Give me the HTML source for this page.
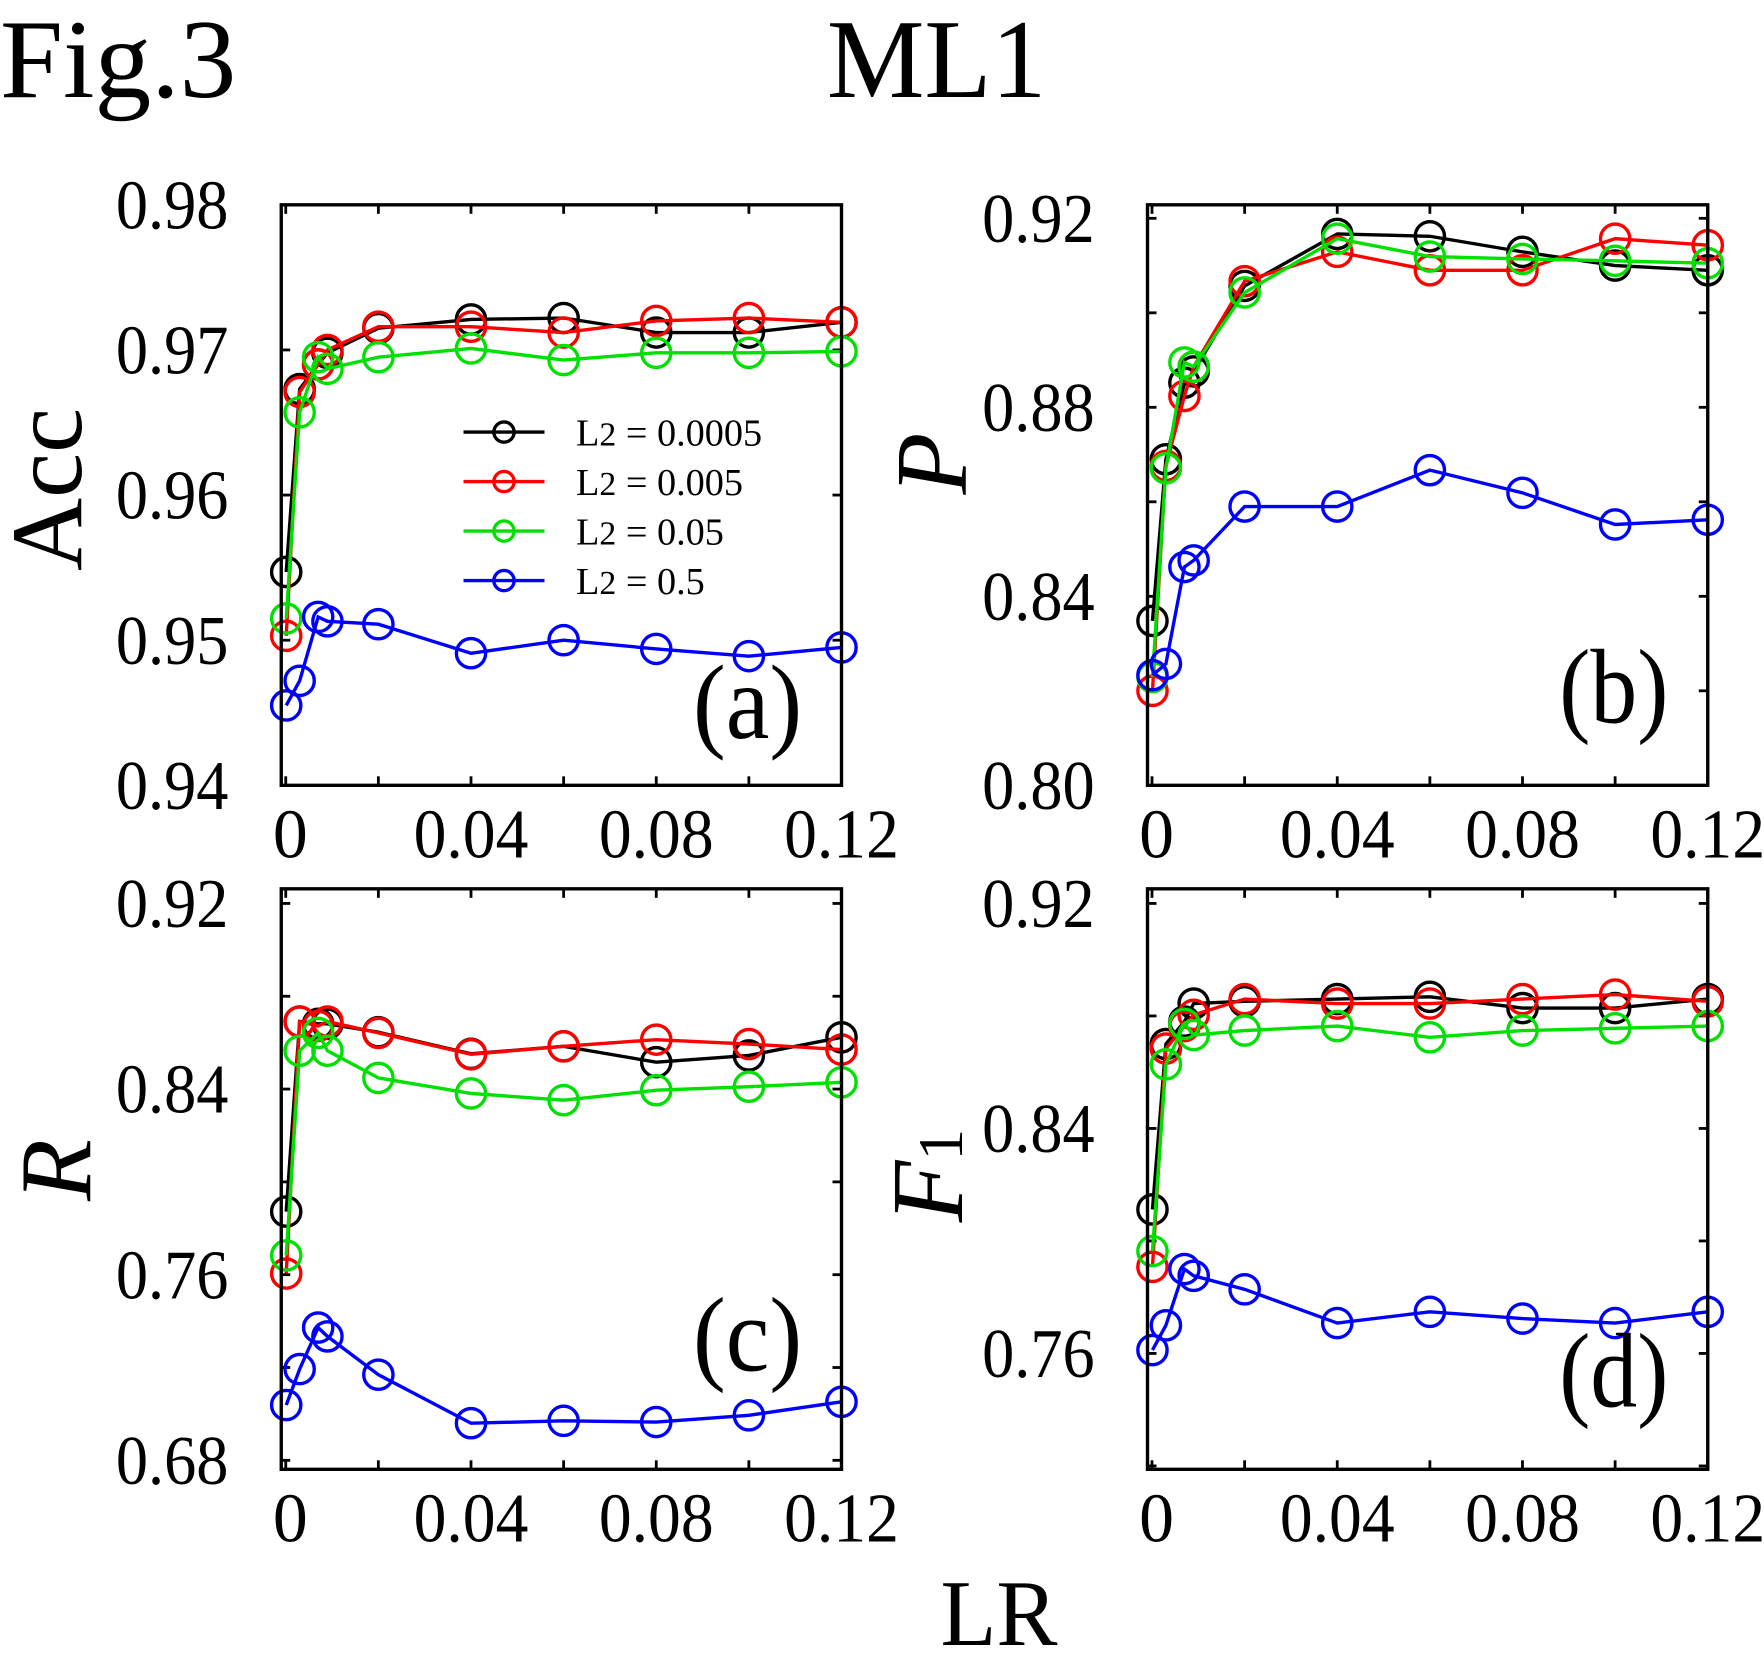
<!DOCTYPE html>
<html><head><meta charset="utf-8"><style>
html,body{margin:0;padding:0;background:#fff;}
svg{display:block;}
text{font-family:"Liberation Serif",serif;fill:#000;}
</style></head><body>
<svg id="fig" width="1764" height="1673" viewBox="0 0 1568 1487" xmlns="http://www.w3.org/2000/svg">
<text x="0" y="86" font-size="100" textLength="210" lengthAdjust="spacingAndGlyphs">Fig.3</text>
<text x="735" y="86" font-size="100" textLength="195" lengthAdjust="spacingAndGlyphs">ML1</text>
<text x="836" y="1462" font-size="84" textLength="104" lengthAdjust="spacingAndGlyphs">LR</text>
</svg>
<script>
const lr = [0.0001,0.003,0.007,0.009,0.02,0.04,0.06,0.08,0.1,0.12];
const seriesNames = ['L2 = 0.0005','L2 = 0.005','L2 = 0.05','L2 = 0.5'];
const colors = ['#000000','#ff0000','#00e000','#0000ff'];
const xTicks = [0,0.04,0.08,0.12];
const xTickLabels = ['0','0.04','0.08','0.12'];

const accBlack = [0.9547,0.9673,0.969,0.9698,0.9715,0.9721,0.9722,0.9712,0.9712,0.9719];
const accRed   = [0.9503,0.9671,0.969,0.970,0.9716,0.9716,0.9712,0.972,0.9722,0.9719];
const accGreen = [0.9515,0.9657,0.9695,0.9687,0.9695,0.9701,0.9693,0.9698,0.9698,0.9699];
const accBlue  = [0.9455,0.9472,0.9516,0.9513,0.9511,0.9491,0.950,0.9494,0.9489,0.9495];

const pBlack = [0.8348,0.869,0.8852,0.8876,0.9057,0.9167,0.9162,0.9129,0.910,0.909];
const pRed   = [0.820,0.8676,0.8824,0.8886,0.9067,0.9129,0.909,0.909,0.9157,0.9143];
const pGreen = [0.8229,0.8671,0.8895,0.8886,0.9043,0.9157,0.9119,0.9114,0.911,0.9105];
const pBlue  = [0.8233,0.8257,0.8462,0.8476,0.859,0.859,0.8667,0.8619,0.8552,0.8562];

const rBlack = [0.7872,0.8691,0.8681,0.8681,0.8645,0.8552,0.8584,0.8516,0.8545,0.8623];
const rRed   = [0.7605,0.8691,0.8672,0.8691,0.8642,0.855,0.8584,0.8613,0.8594,0.857];
const rGreen = [0.7683,0.8565,0.8642,0.8565,0.8448,0.8381,0.8352,0.8395,0.841,0.8429];
const rBlue  = [0.7038,0.7193,0.7372,0.7334,0.7169,0.696,0.697,0.6965,0.6994,0.7052];

const fBlack = [0.8112,0.870,0.878,0.8844,0.8852,0.886,0.8868,0.8828,0.8828,0.886];
const fRed   = [0.7908,0.8684,0.8764,0.8804,0.886,0.8844,0.8844,0.886,0.8876,0.8852];
const fGreen = [0.7964,0.8628,0.8772,0.8732,0.8748,0.8764,0.8724,0.8748,0.8756,0.8764];
const fBlue  = [0.7612,0.770,0.790,0.7876,0.7828,0.7708,0.7748,0.7724,0.7708,0.7748];

const accTicks = [0.94,0.95,0.96,0.97,0.98];
const accTickLabels = ['0.94','0.95','0.96','0.97','0.98'];
const pTicks = [0.80,0.84,0.88,0.92];
const pTickLabels = ['0.80','0.84','0.88','0.92'];
const rTicks = [0.68,0.76,0.84,0.92];
const rTickLabels = ['0.68','0.76','0.84','0.92'];
const fTicks = [0.76,0.84,0.92];
const fTickLabels = ['0.76','0.84','0.92'];

const NS='http://www.w3.org/2000/svg';
const svg=document.getElementById('fig');
function mk(tag,attrs,parent){const e=document.createElementNS(NS,tag);for(const k in attrs)e.setAttribute(k,attrs[k]);(parent||svg).appendChild(e);return e;}

function panel(o){
  const g=mk('g',{});
  
  
  const L=o.L,T=o.T,W=498,H=516;
  const x=v=>L+4+v*(W-4)/0.12;
  const y=v=>o.y0px-(v-o.y0)*o.ppu;
  for(let v=0;v<=0.1201;v+=0.02){const px=x(v);
    mk('line',{x1:px,y1:T,x2:px,y2:T+8,stroke:'#000','stroke-width':2.5},g);
    mk('line',{x1:px,y1:T+H,x2:px,y2:T+H-8,stroke:'#000','stroke-width':2.5},g);}
  for(let v=o.minor0;v<=o.ymax+1e-9;v+=o.minorStep){const py=y(v);if(py<T+2||py>T+H-2)continue;
    mk('line',{x1:L,y1:py,x2:L+8,y2:py,stroke:'#000','stroke-width':2.5},g);
    mk('line',{x1:L+W,y1:py,x2:L+W-8,y2:py,stroke:'#000','stroke-width':2.5},g);}
  xTicks.forEach((v,i)=>{const a={x:x(v)+(i==0?4:0),y:T+H+64,'font-size':62,'text-anchor':'middle'};
    if(i>0){a.textLength=102;a.lengthAdjust='spacingAndGlyphs';}
    const t=mk('text',a,g);t.textContent=xTickLabels[i];
    
    });
  o.ticks.forEach((v,i)=>{const t=mk('text',{x:L-147,y:y(v)+21,'font-size':62,textLength:100,lengthAdjust:'spacingAndGlyphs'},g);t.textContent=o.tickLabels[i];
    
    });
  o.series.forEach((s,si)=>{
    const pts=s.map((v,i)=>x(lr[i])+','+y(v)).join(' ');
    const pl=mk('polyline',{points:pts,fill:'none',stroke:colors[si],'stroke-width':3},g);
    
    
    s.forEach((v,i)=>{const c=mk('circle',{cx:x(lr[i]),cy:y(v),r:13,fill:'none',stroke:colors[si],'stroke-width':3},g);
      
      });
  });
  const fr=mk('rect',{x:L,y:T,width:W,height:H,fill:'none',stroke:'#000','stroke-width':3},g);
  
  
  const lab=mk('text',{x:L+366,y:T+o.labY,'font-size':94,textLength:97,lengthAdjust:'spacingAndGlyphs'},g);lab.textContent=o.label;
  
  
  const yt=mk('text',{x:0,y:0,'font-size':o.yfs,'text-anchor':'middle','font-style':o.italic?'italic':'normal',transform:'translate('+o.ytx+','+o.yty+') rotate(-90)'},g);
  
  
  if(o.sub){yt.textContent=o.ytitle;const ts=mk('tspan',{'font-size':56,'font-style':'normal',dy:0},yt);ts.textContent=o.sub;}
  else yt.textContent=o.ytitle;
  return {x,y,g};
}

panel({name:'panel-a-acc',L:250,T:182,y0:0.94,y0px:698,ppu:516/0.04,ymax:0.98,minor0:0.94,minorStep:0.01,ticks:accTicks,tickLabels:accTickLabels,series:[accBlack,accRed,accGreen,accBlue],label:'(a)',labY:474,ytitle:'Acc',ytx:72,yty:435,yfs:90});
panel({name:'panel-b-precision',L:1020,T:182,y0:0.80,y0px:698,ppu:168/0.04,ymax:0.93,minor0:0.80,minorStep:0.02,ticks:pTicks,tickLabels:pTickLabels,series:[pBlack,pRed,pGreen,pBlue],label:'(b)',labY:460,ytitle:'P',ytx:858,yty:412,yfs:90,italic:true});
panel({name:'panel-c-recall',L:250,T:790,y0:0.68,y0px:1298,ppu:165/0.08,ymax:0.93,minor0:0.68,minorStep:0.04,ticks:rTicks,tickLabels:rTickLabels,series:[rBlack,rRed,rGreen,rBlue],label:'(c)',labY:428,ytitle:'R',ytx:80,yty:1040,yfs:90,italic:true});
panel({name:'panel-d-f1',L:1020,T:790,y0:0.76,y0px:1203,ppu:200/0.08,ymax:0.93,minor0:0.72,minorStep:0.04,ticks:fTicks,tickLabels:fTickLabels,series:[fBlack,fRed,fGreen,fBlue],label:'(d)',labY:460,ytitle:'F',sub:'1',ytx:855,yty:1045,yfs:90,italic:true});

const lg=mk('g',{});


seriesNames.forEach((n,i)=>{const yy=384+i*44;
  mk('line',{x1:412,y1:yy,x2:484,y2:yy,stroke:colors[i],'stroke-width':3},lg);
  mk('circle',{cx:448,cy:yy,r:9,fill:'none',stroke:colors[i],'stroke-width':3},lg);
  const t=mk('text',{x:512,y:yy+12,'font-size':34},lg);
  
  
  t.textContent='L';const s=mk('tspan',{'font-size':30},t);s.textContent='2';
  const r=mk('tspan',{},t);r.textContent=n.slice(2);
});
</script>
</body></html>
